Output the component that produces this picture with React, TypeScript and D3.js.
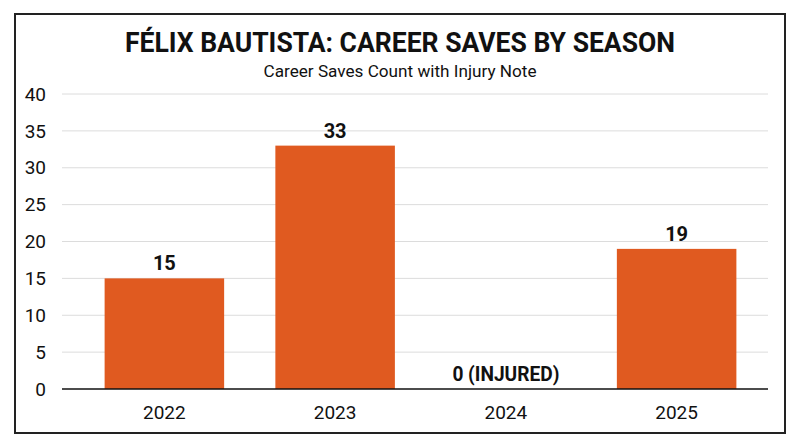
import { useEffect, useRef } from 'react';
import * as d3 from 'd3';

const seasons = ['2022', '2023', '2024', '2025'];
const saves = [15, 33, 0, 19];
const valueLabels = ['15', '33', '0 (INJURED)', '19'];
const yTicks = [0, 5, 10, 15, 20, 25, 30, 35, 40];

const width = 800;
const height = 447;
const font = 'Roboto, "Open Sans", sans-serif';

export default function App() {
  const svgRef = useRef<SVGSVGElement>(null);

  useEffect(() => {
    if (!svgRef.current) return;
    const svg = d3.select(svgRef.current);
    svg.selectAll('*').remove();

    svg.append('rect')
      .attr('width', width)
      .attr('height', height)
      .attr('fill', '#fff');

    // outer frame
    svg.append('rect')
      .attr('x', 15)
      .attr('y', 14)
      .attr('width', 770)
      .attr('height', 419)
      .attr('fill', '#fff')
      .attr('stroke', '#222')
      .attr('stroke-width', 2);

    const plotLeft = 62;
    const plotRight = 768;

    const x = d3.scaleBand()
      .domain(seasons)
      .range([79, 762])
      .paddingInner(0.3)
      .paddingOuter(0.15);

    const y = d3.scaleLinear()
      .domain([0, 40])
      .range([389, 94]);

    // grid
    svg.append('g')
      .selectAll('line')
      .data(yTicks.filter(t => t > 0))
      .join('line')
      .attr('x1', plotLeft)
      .attr('x2', plotRight)
      .attr('y1', d => y(d))
      .attr('y2', d => y(d))
      .attr('stroke', '#dcdcdc')
      .attr('stroke-width', 1);

    // y tick labels
    svg.append('g')
      .selectAll('text')
      .data(yTicks)
      .join('text')
      .attr('x', 46)
      .attr('y', d => y(d))
      .attr('dy', '0.35em')
      .attr('text-anchor', 'end')
      .attr('font-family', font)
      .attr('font-size', '19px')
      .attr('fill', '#111')
      .text(d => d);

    // bars
    svg.append('g')
      .selectAll('rect')
      .data(saves)
      .join('rect')
      .attr('x', (_, i) => x(seasons[i])!)
      .attr('y', d => y(d))
      .attr('width', x.bandwidth())
      .attr('height', d => y(0) - y(d))
      .attr('fill', '#E05A20');

    // baseline
    svg.append('line')
      .attr('x1', plotLeft)
      .attr('x2', plotRight)
      .attr('y1', y(0))
      .attr('y2', y(0))
      .attr('stroke', '#111')
      .attr('stroke-width', 1.5);

    // value labels
    svg.append('g')
      .selectAll('text')
      .data(saves)
      .join('text')
      .attr('x', (_, i) => x(seasons[i])! + x.bandwidth() / 2)
      .attr('y', d => y(d) - 8)
      .attr('text-anchor', 'middle')
      .attr('font-family', font)
      .attr('font-weight', 'bold')
      .attr('font-size', '20px')
      .attr('fill', '#111')
      .attr('textLength', (_, i) => (i === 2 ? 107 : null) as any)
      .attr('lengthAdjust', 'spacingAndGlyphs')
      .text((_, i) => valueLabels[i]);

    // x labels
    svg.append('g')
      .selectAll('text')
      .data(seasons)
      .join('text')
      .attr('x', d => x(d)! + x.bandwidth() / 2)
      .attr('y', 419)
      .attr('text-anchor', 'middle')
      .attr('font-family', font)
      .attr('font-size', '19px')
      .attr('fill', '#111')
      .text(d => d);

    svg.append('text')
      .attr('x', width / 2)
      .attr('y', 52)
      .attr('text-anchor', 'middle')
      .attr('font-family', font)
      .attr('font-weight', 'bold')
      .attr('font-size', '28px')
      .attr('fill', '#111')
      .attr('textLength', 550)
      .attr('lengthAdjust', 'spacingAndGlyphs')
      .text('FÉLIX BAUTISTA: CAREER SAVES BY SEASON');

    svg.append('text')
      .attr('x', width / 2)
      .attr('y', 77)
      .attr('text-anchor', 'middle')
      .attr('font-family', font)
      .attr('font-size', '16px')
      .attr('fill', '#111')
      .attr('textLength', 273)
      .attr('lengthAdjust', 'spacingAndGlyphs')
      .text('Career Saves Count with Injury Note');
  }, []);

  return (
    <svg
      ref={svgRef}
      width={width}
      height={height}
      style={{ position: 'absolute', left: 0, top: 0 }}
    />
  );
}
